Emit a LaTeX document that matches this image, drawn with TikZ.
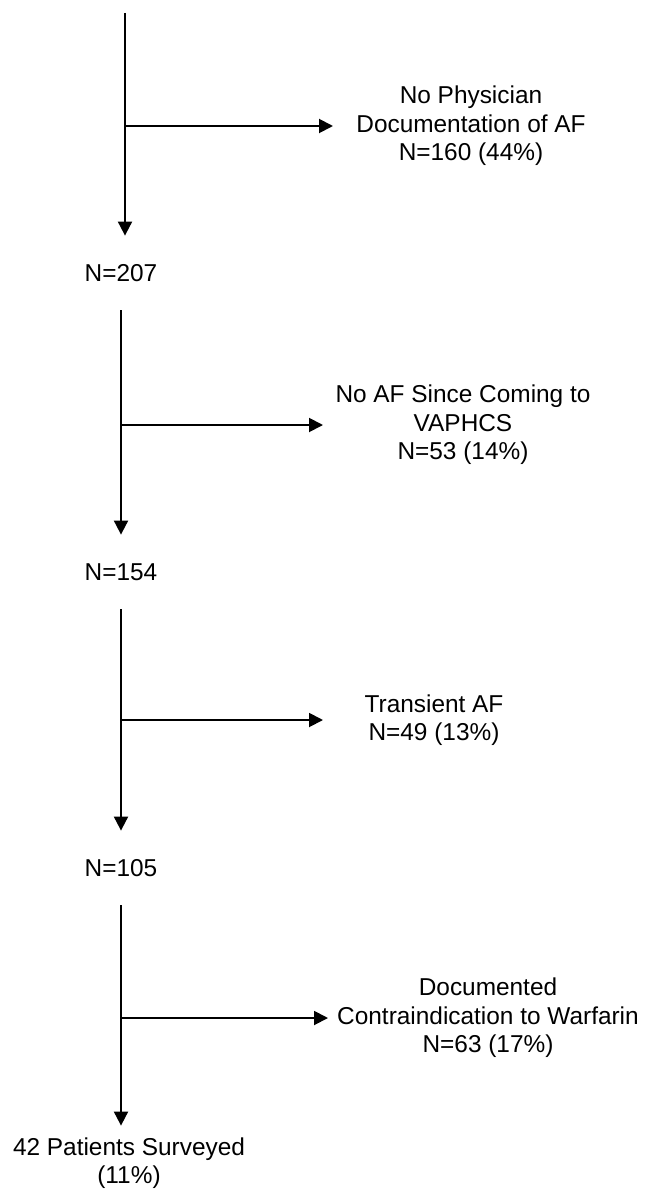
\documentclass[tikz,border=0pt]{standalone}
\usepackage{fontspec}
\setmainfont{Liberation Sans}
\usetikzlibrary{arrows.meta}

\tikzset{
  flow/.style={line width=0.95pt, -{Triangle[length=7pt,width=7pt]}},
  count/.style={inner sep=0pt, minimum height=37pt, align=center},
  excl/.style={inner sep=0pt, align=center},
}

\begin{document}
\begin{tikzpicture}[x=0.5pt, y=-0.5pt, font=\fontsize{12.2pt}{14.3pt}\selectfont]
  \useasboundingbox (0,0) rectangle (649,1193);
  % patients left after each step
  \coordinate (top) at (125,13);
  \node[count] (n207) at (121,273) {N=207};
  \node[count] (n154) at (121,572) {N=154};
  \node[count] (n105) at (121,868) {N=105};
  \node[count] (surveyed) at (129,1163) {42 Patients Surveyed\\(11\%)};
  \draw[flow] (top) -- (top |- n207.north);
  \draw[flow] (n207) -- (n154);
  \draw[flow] (n154) -- (n105);
  \draw[flow] (n105.south) -- (n105.south |- surveyed.north);
  % exclusions to the right
  \foreach \i/\from/\y/\tx/\cx/\txt in {
      1/top/126/333/471/{No Physician\\Documentation of AF\\N=160 (44\%)},
      2/n207/425/323/463/{No AF Since Coming to\\VAPHCS\\N=53 (14\%)},
      3/n154/720/323/434/{Transient AF\\N=49 (13\%)},
      4/n105/1018/328/488/{Documented\\Contraindication to Warfarin\\N=63 (17\%)}} {
    \coordinate (tip\i) at (\tx,\y);
    \node[excl] (ex\i) at (\cx,\y) {\txt};
    \draw[flow] (\from |- tip\i) -- (tip\i);
  }
\end{tikzpicture}
\end{document}
